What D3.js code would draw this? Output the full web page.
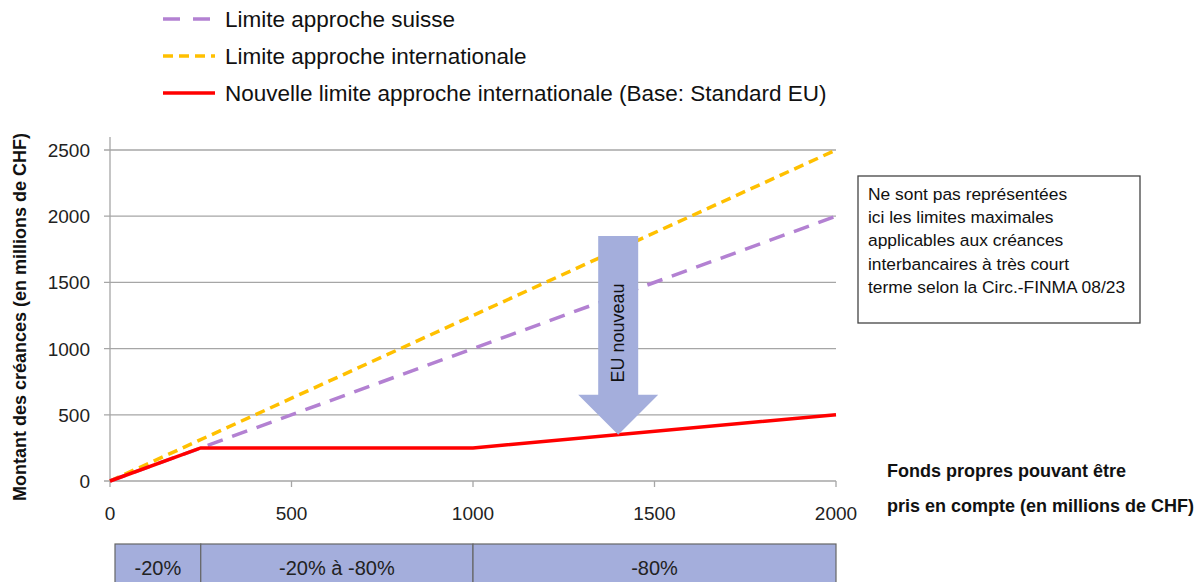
<!DOCTYPE html>
<html><head><meta charset="utf-8">
<script src="https://cdn.jsdelivr.net/npm/d3@7"></script>
<style>body{margin:0;background:#fff;font-family:"Liberation Sans",Arial,sans-serif;}</style>
</head><body><svg id="c" width="1198" height="582"></svg>
<script>
const xTicks = [0, 500, 1000, 1500, 2000];
const yTicks = [0, 500, 1000, 1500, 2000, 2500];
const suisseX = [0, 2000], suisseY = [0, 2000];
const interX = [0, 2000], interY = [0, 2500];
const nouvX = [0, 250, 1000, 2000], nouvY = [0, 250, 250, 500];
const seriesNames = ["Limite approche suisse", "Limite approche internationale", "Nouvelle limite approche internationale (Base: Standard EU)"];
const bandBreaks = [0, 250, 1000, 2000];
const bandLabels = ["-20%", "-20% à -80%", "-80%"];
const arrowX = 1400, arrowTopY = 1850, arrowTipY = 350;
const noteLines = ["Ne sont pas représentées", "ici les limites maximales", "applicables aux créances", "interbancaires à très court", "terme selon la Circ.-FINMA 08/23"];

const svg = d3.select("#c");
const x = d3.scaleLinear().domain([0, 2000]).range([110, 836]);
const y = d3.scaleLinear().domain([0, 2500]).range([481, 150]);

// gridlines
svg.append("g").selectAll("line").data(yTicks).join("line")
  .attr("x1", 104).attr("x2", x(2000)).attr("y1", d => y(d)).attr("y2", d => y(d))
  .attr("stroke", "#a6a6a6").attr("stroke-width", 1.3);
// y axis line
svg.append("line").attr("x1", x(0)).attr("x2", x(0)).attr("y1", 137).attr("y2", y(0))
  .attr("stroke", "#a6a6a6").attr("stroke-width", 1.3);
// x ticks
svg.append("g").selectAll("line").data(xTicks).join("line")
  .attr("x1", d => x(d)).attr("x2", d => x(d)).attr("y1", y(0)).attr("y2", y(0) + 6)
  .attr("stroke", "#a6a6a6").attr("stroke-width", 1.3);
// tick labels
svg.append("g").selectAll("text").data(yTicks).join("text")
  .attr("x", 90).attr("y", d => y(d) + 7).attr("text-anchor", "end")
  .attr("font-size", 19).attr("fill", "#222").text(d => d);
svg.append("g").selectAll("text").data(xTicks).join("text")
  .attr("x", d => x(d)).attr("y", 520).attr("text-anchor", "middle")
  .attr("font-size", 19).attr("fill", "#222").text(d => d);

// axis titles
svg.append("text").attr("transform", "translate(26,317) rotate(-90)").attr("text-anchor", "middle")
  .attr("font-size", 18).attr("font-weight", "bold").attr("fill", "#111")
  .text("Montant des créances (en millions de CHF)");
svg.append("text").attr("x", 887).attr("y", 477).attr("font-size", 18).attr("font-weight", "bold").attr("fill", "#111").text("Fonds propres pouvant être");
svg.append("text").attr("x", 887).attr("y", 512).attr("font-size", 18).attr("font-weight", "bold").attr("fill", "#111").text("pris en compte (en millions de CHF)");

const line = d3.line().x(d => x(d[0])).y(d => y(d[1]));
const series = [
  {xs: interX, ys: interY, color: "#FFC000", dash: "10,6", w: 3.5, legDash: "10,6"},
  {xs: suisseX, ys: suisseY, color: "#B381D2", dash: "16,10", w: 3.5, legDash: "17,13"},
  {xs: nouvX, ys: nouvY, color: "#FF0000", dash: null, w: 3.5, legDash: null}
];
series.forEach(s => {
  svg.append("path").attr("d", line(s.xs.map((v, i) => [v, s.ys[i]])))
    .attr("fill", "none").attr("stroke", s.color).attr("stroke-width", s.w)
    .attr("stroke-dasharray", s.dash);
});

// arrow
const ax = x(arrowX), atop = y(arrowTopY), atip = y(arrowTipY);
const sw = 20, hw = 40, hh = 40;
svg.append("path").attr("d",
  `M${ax - sw},${atop} L${ax + sw},${atop} L${ax + sw},${atip - hh} L${ax + hw},${atip - hh} L${ax},${atip} L${ax - hw},${atip - hh} L${ax - sw},${atip - hh} Z`)
  .attr("fill", "#A4AEDC");
svg.append("text").attr("transform", `translate(${ax + 6},333) rotate(-90)`)
  .attr("text-anchor", "middle").attr("font-size", 18).attr("fill", "#111").text("EU nouveau");

// note box
svg.append("rect").attr("x", 858).attr("y", 176).attr("width", 282).attr("height", 147)
  .attr("fill", "#fff").attr("stroke", "#444").attr("stroke-width", 1.3);
svg.append("g").selectAll("text").data(noteLines).join("text")
  .attr("x", 868).attr("y", (d, i) => 200 + i * 23.2).attr("font-size", 17.4).attr("fill", "#111").text(d => d);

// legend
const lg = svg.append("g");
seriesNames.forEach((n, i) => {
  const s = [series[1], series[0], series[2]][i];
  const ly = 19 + i * 37;
  lg.append("line").attr("x1", 163).attr("x2", 215).attr("y1", ly).attr("y2", ly)
    .attr("stroke", s.color).attr("stroke-width", 3.5).attr("stroke-dasharray", s.legDash);
  lg.append("text").attr("x", 225).attr("y", ly + 8).attr("font-size", 22.5).attr("fill", "#111").text(n);
});

// bottom band table
const bx = d => d === 0 ? x(d) + 5 : x(d);
const bands = bandLabels.map((l, i) => ({l, a: bandBreaks[i], b: bandBreaks[i + 1]}));
const bg = svg.append("g");
bg.selectAll("rect").data(bands).join("rect")
  .attr("x", d => bx(d.a)).attr("y", 544)
  .attr("width", d => bx(d.b) - bx(d.a)).attr("height", 45)
  .attr("fill", "#A4AEDC").attr("stroke", "#666").attr("stroke-width", 1.2);
bg.selectAll("text").data(bands).join("text")
  .attr("x", d => (bx(d.a) + bx(d.b)) / 2).attr("y", 575)
  .attr("text-anchor", "middle").attr("font-size", 20).attr("fill", "#222").text(d => d.l);
</script></body></html>
